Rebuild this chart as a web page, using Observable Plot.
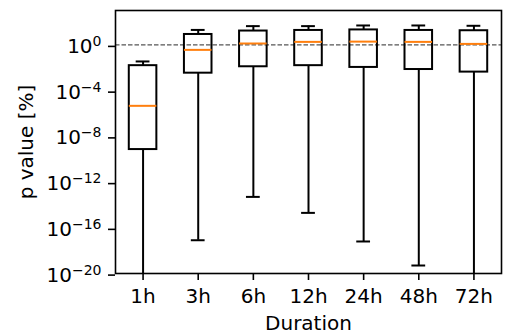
<!DOCTYPE html>
<html><head><meta charset="utf-8">
<script src="https://cdn.jsdelivr.net/npm/d3@7"></script>
<script src="https://cdn.jsdelivr.net/npm/@observablehq/plot@0.6"></script>
<style>body{margin:0;background:#fff}</style>
</head><body><div id="chart"></div>
<script>
const durations = ["1h", "3h", "6h", "12h", "24h", "48h", "72h"];
const whiskerLow = [1e-24, 8.1e-18, 5e-14, 2e-15, 6.3e-18, 5e-20, 1e-24];
const quartile1 = [6.9e-10, 3.3e-3, 1.2e-2, 1.5e-2, 1.05e-2, 6.9e-3, 4.1e-3];
const median = [4.6e-6, 0.36, 1.3, 1.8, 1.9, 1.8, 1.2];
const quartile3 = [1.5e-2, 8, 16, 18, 20, 18, 17];
const whiskerHigh = [3.5e-2, 20, 43, 43, 49, 49, 46];
const yTicks = [1e-20, 1e-16, 1e-12, 1e-8, 1e-4, 1];
const yTickExponents = ["−20", "−16", "−12", "−8", "−4", "0"];
const threshold = [1];
const xLabel = "Duration";
const yLabel = "p value [%]";

const data = durations.map((label, i) => ({
  pos: i + 1, label,
  lo: whiskerLow[i], q1: quartile1[i], med: median[i], q3: quartile3[i], hi: whiskerHigh[i]
}));
const boxHalf = 0.25, capHalf = 0.125;

const supMap = {"0":"⁰","1":"¹","2":"²","3":"³","4":"⁴","5":"⁵","6":"⁶","7":"⁷","8":"⁸","9":"⁹","−":"⁻"};
const unSup = Object.fromEntries(Object.entries(supMap).map(([k, v]) => [v, k]));
const toSup = s => [...s].map(c => supMap[c] || c).join("");

const chart = Plot.plot({
  width: 507, height: 334,
  marginLeft: 115, marginRight: 6, marginTop: 10, marginBottom: 61,
  style: {fontFamily: "'DejaVu Sans', sans-serif", fontSize: "20px", background: "white", color: "black", overflow: "visible"},
  x: {type: "linear", domain: [0.5, 7.5]},
  y: {type: "log", domain: [1e-20, 1e3]},
  marks: [
    Plot.ruleY(threshold, {stroke: "#555", strokeWidth: 1.3, strokeDasharray: "4.5,2"}),
    Plot.ruleX(data, {x: "pos", y1: "q3", y2: "hi", stroke: "black", strokeWidth: 2}),
    Plot.ruleX(data, {x: "pos", y1: "lo", y2: "q1", stroke: "black", strokeWidth: 2, clip: true}),
    Plot.ruleY(data, {y: "hi", x1: d => d.pos - capHalf, x2: d => d.pos + capHalf, stroke: "black", strokeWidth: 2}),
    Plot.ruleY(data, {y: "lo", x1: d => d.pos - capHalf, x2: d => d.pos + capHalf, stroke: "black", strokeWidth: 2, clip: true}),
    Plot.rect(data, {x1: d => d.pos - boxHalf, x2: d => d.pos + boxHalf, y1: "q1", y2: "q3", fill: "none", stroke: "black", strokeWidth: 2}),
    Plot.ruleY(data, {y: "med", x1: d => d.pos - boxHalf, x2: d => d.pos + boxHalf, stroke: "#ff7f0e", strokeWidth: 2}),
    Plot.frame({stroke: "black", strokeWidth: 1.6}),
    Plot.axisX({ticks: data.map(d => d.pos), tickFormat: p => durations[p - 1], tickSize: 7, tickPadding: 8, strokeWidth: 1.6, label: null}),
    Plot.axisY({ticks: yTicks, tickFormat: d => "10" + toSup(yTickExponents[yTicks.indexOf(d)]), tickSize: 7, tickPadding: 7, strokeWidth: 1.6, dy: 1.6, label: null}),
    Plot.text([xLabel], {frameAnchor: "bottom", lineAnchor: "bottom", dy: 56, fontSize: 20, fill: "black"}),
    Plot.text([yLabel], {frameAnchor: "left", textAnchor: "middle", lineAnchor: "bottom", dx: -83, rotate: -90, fontSize: 20, fill: "black"})
  ]
});

const svgNS = "http://www.w3.org/2000/svg";
chart.querySelectorAll('g[aria-label="y-axis tick label"] text').forEach(t => {
  const s = t.textContent;
  if (!s.startsWith("10")) return;
  const exp = [...s.slice(2)].map(c => unSup[c] || c).join("");
  t.textContent = "10";
  const ts = document.createElementNS(svgNS, "tspan");
  ts.setAttribute("font-size", "14");
  ts.setAttribute("dy", "-0.5em");
  ts.textContent = exp;
  t.appendChild(ts);
});
document.getElementById("chart").appendChild(chart);
</script>
</body></html>
